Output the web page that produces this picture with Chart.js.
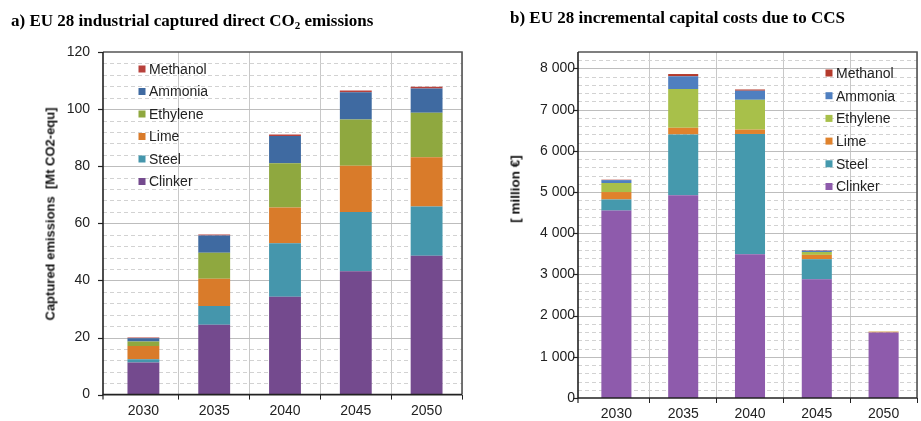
<!DOCTYPE html>
<html>
<head>
<meta charset="utf-8">
<script src="https://cdn.jsdelivr.net/npm/chart.js@4.4.1/dist/chart.umd.min.js"></script>
<style>
  html, body { margin: 0; padding: 0; background: #fff; }
  #wrap { position: relative; width: 921px; height: 421px; overflow: hidden; background: #fff; }
  canvas { position: absolute; top: 0; }
  .title { position: absolute; font-family: 'Liberation Serif', 'Times New Roman', serif; font-weight: bold; font-size: 17px; line-height: 17px; color: #000; white-space: nowrap; }
  .title sub { font-size: 11px; vertical-align: -3px; line-height: 0; }
  .ylab { position: absolute; font-family: 'Liberation Sans', Arial, sans-serif; font-weight: bold; font-size: 13px; color: #111; white-space: pre; transform: translate(-50%, -50%) rotate(-90deg); transform-origin: center; }
</style>
</head>
<body>
<div id="wrap">
  <canvas id="c1" width="470" height="421" style="left:0px;width:470px;height:421px"></canvas>
  <canvas id="c2" width="451" height="421" style="left:470px;width:451px;height:421px"></canvas>
  <div class="title" style="left:11px;top:12px">a) EU 28 industrial captured direct CO<sub>2</sub> emissions</div>
  <div class="title" style="left:510px;top:9px">b) EU 28 incremental capital costs due to CCS</div>
  <div class="ylab" style="left:50px;top:214px">Captured emissions  [Mt CO2-equ]</div>
  <div class="ylab" style="left:515px;top:189px;font-size:13.5px">[ million €]</div>
</div>
<script>
// ---- Data ----
const years = ['2030', '2035', '2040', '2045', '2050'];
const seriesNames = ['Clinker', 'Steel', 'Lime', 'Ethylene', 'Ammonia', 'Methanol'];

// a) captured direct CO2 emissions [Mt CO2-equ]
const clinkerEm  = [11.2, 24.5, 34.3, 43.2, 48.6];
const steelEm    = [1.2, 6.5, 18.7, 20.8, 17.3];
const limeEm     = [4.6, 9.6, 12.5, 16.2, 17.2];
const ethyleneEm = [1.6, 9.1, 15.5, 16.2, 15.6];
const ammoniaEm  = [1.1, 6.0, 9.6, 9.5, 8.5];
const methanolEm = [0.3, 0.4, 0.5, 0.6, 0.6];

// b) incremental capital costs [million €]
const clinkerCost  = [4550, 4920, 3490, 2880, 1590];
const steelCost    = [270, 1480, 2920, 490, 0];
const limeCost     = [180, 160, 105, 105, 20];
const ethyleneCost = [220, 940, 725, 70, 5];
const ammoniaCost  = [70, 310, 220, 30, 0];
const methanolCost = [10, 55, 30, 10, 0];

// y ticks
const emTickValues = [0, 20, 40, 60, 80, 100, 120];
const emTickLabels = ['0', '20', '40', '60', '80', '100', '120'];
const costTickValues = [0, 1000, 2000, 3000, 4000, 5000, 6000, 7000, 8000];
const costTickLabels = ['0', '1 000', '2 000', '3 000', '4 000', '5 000', '6 000', '7 000', '8 000'];

// axis settings
const emAxis = { min: 0, max: 120, major: 20, minor: 4 };
const costAxis = { min: 0, max: 8400, major: 1000, minor: 200 };

const colorsA = ['#744a8e', '#4596ac', '#d97b2a', '#8fa83f', '#3f6aa1', '#b8413c'];
const colorsB = ['#8e5bac', '#4599ad', '#e0822c', '#a8c04a', '#4f7fc0', '#b43a2c'];

Chart.defaults.font.family = "'Liberation Sans', Arial, sans-serif";
Chart.defaults.color = '#222';

// grid, frame and legend drawn from the chart's own scales
const framePlugin = {
  id: 'frame',
  beforeDatasetsDraw(chart, args, o) {
    const { ctx, chartArea: { left, right }, scales: { y } } = chart;
    const fl = left - o.gap;
    ctx.save();
    const n = Math.round((o.max - o.min) / o.minor);
    for (let i = 1; i < n; i++) {
      const v = o.min + i * o.minor;
      const py = Math.round(y.getPixelForValue(v)) + 0.5;
      const isMajor = Math.abs(v / o.major - Math.round(v / o.major)) < 1e-6;
      ctx.beginPath();
      if (isMajor) { ctx.setLineDash([]); ctx.strokeStyle = '#bdbdbd'; ctx.lineWidth = 1.2; }
      else { ctx.setLineDash([4, 3]); ctx.strokeStyle = '#d2d2d2'; ctx.lineWidth = 1; }
      ctx.moveTo(fl, py); ctx.lineTo(right, py); ctx.stroke();
    }
    ctx.restore();
  },
  afterDatasetsDraw(chart, args, o) {
    const { ctx, chartArea: { left, right, top, bottom }, scales: { y } } = chart;
    const fl = left - o.gap;
    ctx.save();
    ctx.setLineDash([]);
    ctx.strokeStyle = '#555'; ctx.lineWidth = 1.6;
    ctx.beginPath(); ctx.moveTo(fl, top); ctx.lineTo(right, top); ctx.lineTo(right, bottom); ctx.stroke();
    ctx.strokeStyle = '#222'; ctx.lineWidth = 1.6;
    ctx.beginPath(); ctx.moveTo(fl, top); ctx.lineTo(fl, bottom); ctx.lineTo(right, bottom); ctx.stroke();
    ctx.lineWidth = 1.2;
    y.ticks.forEach((t) => {
      const py = Math.round(y.getPixelForValue(t.value)) + 0.5;
      ctx.beginPath(); ctx.moveTo(fl - 5, py); ctx.lineTo(fl, py); ctx.stroke();
    });
    ctx.beginPath(); ctx.moveTo(fl, bottom); ctx.lineTo(fl, bottom + 5); ctx.stroke();
    // legend (reverse stack order)
    ctx.font = "14px 'Liberation Sans', Arial, sans-serif";
    ctx.textBaseline = 'middle';
    ctx.textAlign = 'left';
    const ds = chart.data.datasets;
    for (let k = 0; k < ds.length; k++) {
      const d = ds[ds.length - 1 - k];
      const cy = top + o.legY + k * o.legDy;
      const cx = left + o.legX;
      ctx.fillStyle = d.backgroundColor;
      ctx.fillRect(cx - 3.5, cy - 3.5, 7, 7);
      ctx.fillStyle = '#222';
      ctx.fillText(d.label, cx + 7, cy + 1);
    }
    ctx.restore();
  }
};

function makeChart(id, values, colors, ax, tickValues, tickLabels, opt) {
  const datasets = values.map((vals, i) => ({
    label: seriesNames[i],
    data: vals,
    backgroundColor: colors[i],
    borderWidth: 0,
    barPercentage: 0.45,
    categoryPercentage: 1.0
  }));
  return new Chart(document.getElementById(id), {
    type: 'bar',
    data: { labels: years, datasets },
    options: {
      responsive: false,
      animation: false,
      devicePixelRatio: 1,
      layout: { padding: { left: 0, right: opt.padRight, top: 52, bottom: 0 } },
      plugins: {
        legend: { display: false },
        tooltip: { enabled: false },
        frame: { gap: 5, min: ax.min, max: ax.max, major: ax.major, minor: ax.minor,
                 legX: opt.legX, legY: opt.legY, legDy: opt.legDy }
      },
      scales: {
        x: {
          stacked: true,
          offset: true,
          grid: {
            offset: true,
            display: true,
            drawOnChartArea: true,
            color: (c) => (c.index === 0 ? 'rgba(0,0,0,0)' : '#c8c8c8'),
            tickColor: (c) => (c.index === 0 ? 'rgba(0,0,0,0)' : '#222'),
            tickLength: 5,
            lineWidth: 1
          },
          border: { display: false },
          ticks: { font: { size: 14 }, color: '#222', padding: 3, maxRotation: 0 },
          afterFit: (s) => { s.height = 23; }
        },
        y: {
          stacked: true,
          min: ax.min,
          max: ax.max,
          grid: { display: false, drawTicks: false },
          border: { display: false },
          ticks: {
            autoSkip: false,
            padding: opt.tickPad,
            font: { size: 14 },
            color: '#222',
            callback: (v, i) => (tickLabels[i] !== undefined ? tickLabels[i] : '')
          },
          afterBuildTicks: (s) => { s.ticks = tickValues.map((v) => ({ value: v })); },
          afterFit: (s) => { s.width = opt.yWidth; }
        }
      }
    },
    plugins: [framePlugin]
  });
}

makeChart('c1',
  [clinkerEm, steelEm, limeEm, ethyleneEm, ammoniaEm, methanolEm],
  colorsA, emAxis, emTickValues, emTickLabels,
  { padRight: 8, yWidth: 108, tickPad: 18, legX: 34, legY: 17, legDy: 22.5 });

makeChart('c2',
  [clinkerCost, steelCost, limeCost, ethyleneCost, ammoniaCost, methanolCost],
  colorsB, costAxis, costTickValues, costTickLabels,
  { padRight: 4, yWidth: 113, tickPad: 8, legX: 246, legY: 21, legDy: 22.7 });
</script>
</body>
</html>
